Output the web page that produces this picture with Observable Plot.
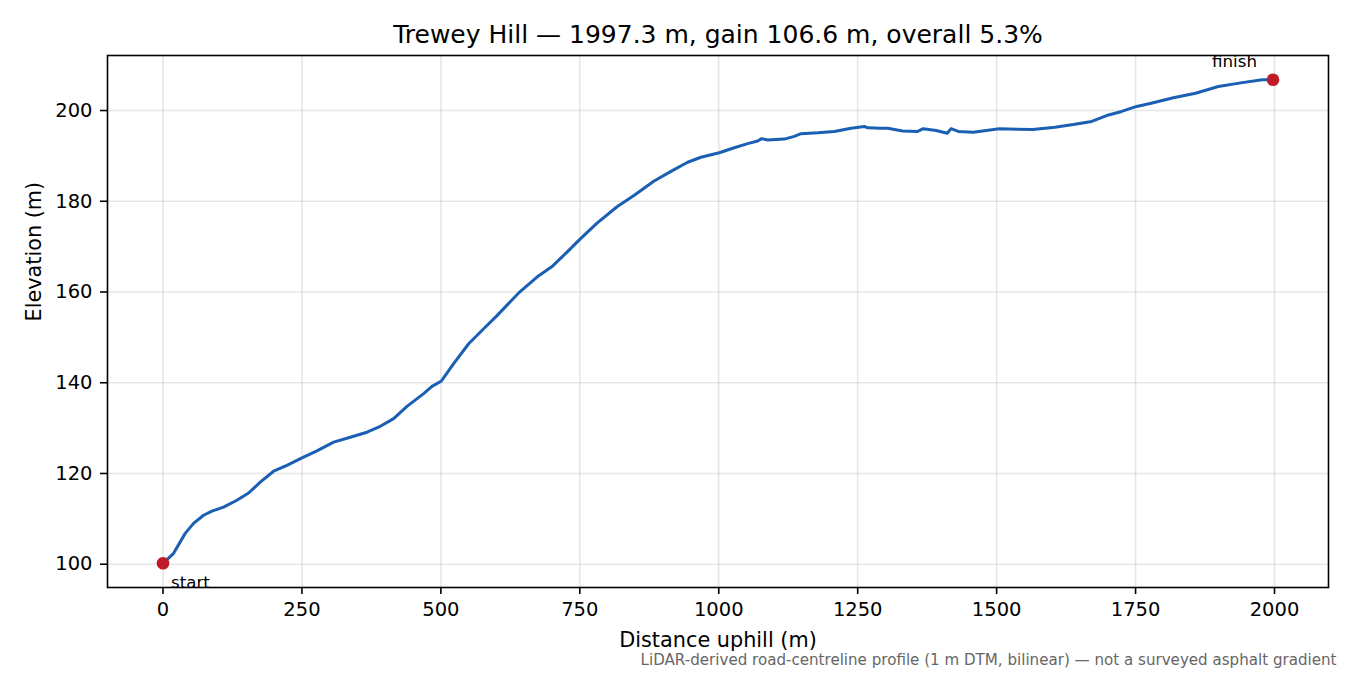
<!DOCTYPE html>
<html>
<head>
<meta charset="utf-8">
<script src="https://cdn.jsdelivr.net/npm/d3@7"></script>
<script src="https://cdn.jsdelivr.net/npm/@observablehq/plot@0.6"></script>
<style>
  html, body { margin: 0; padding: 0; background: #fff; }
  svg { display: block; }
</style>
</head>
<body>
<div id="chart"></div>
<script>
const distance = [0, 19, 40, 55, 73, 88, 109, 133, 154, 175, 199, 223, 251, 277, 307, 337, 367, 391, 415, 439, 469, 484, 501, 523, 550, 577, 601, 640, 673, 700, 727, 750, 781, 817, 850, 883, 914, 944, 968, 1001, 1028, 1052, 1070, 1077, 1088, 1118, 1136, 1148, 1178, 1208, 1238, 1262, 1268, 1291, 1304, 1331, 1358, 1368, 1391, 1411, 1418, 1431, 1458, 1505, 1565, 1605, 1638, 1671, 1698, 1725, 1752, 1778, 1818, 1858, 1899, 1939, 1978, 1997.3];
const elevation = [100.2, 102.4, 106.8, 109.0, 110.8, 111.7, 112.6, 114.1, 115.7, 118.1, 120.5, 121.8, 123.5, 125.0, 126.9, 128.0, 129.1, 130.4, 132.1, 134.8, 137.6, 139.2, 140.4, 144.2, 148.6, 151.9, 154.8, 159.8, 163.3, 165.6, 168.8, 171.6, 175.2, 178.8, 181.5, 184.4, 186.6, 188.6, 189.7, 190.7, 191.8, 192.7, 193.3, 193.8, 193.5, 193.7, 194.3, 194.9, 195.1, 195.4, 196.1, 196.5, 196.2, 196.1, 196.1, 195.5, 195.4, 196.0, 195.6, 195.0, 196.0, 195.4, 195.2, 196.0, 195.8, 196.3, 196.9, 197.6, 198.9, 199.8, 200.9, 201.6, 202.8, 203.8, 205.3, 206.1, 206.8, 206.8];
const xTicks = [0, 250, 500, 750, 1000, 1250, 1500, 1750, 2000];
const yTicks = [100, 120, 140, 160, 180, 200];
const endpoints = [
  {label: "start", x: 0, y: 100.2},
  {label: "finish", x: 1997.3, y: 206.8}
];
const titleText = "Trewey Hill — 1997.3 m, gain 106.6 m, overall 5.3%";
const xLabel = "Distance uphill (m)";
const yLabel = "Elevation (m)";
const captionText = "LiDAR-derived road-centreline profile (1 m DTM, bilinear) — not a surveyed asphalt gradient";

const data = distance.map((d, i) => ({d, e: elevation[i]}));
const xr = d3.extent(distance), yr = d3.extent(elevation);
const xm = (xr[1] - xr[0]) * 0.05, ym = (yr[1] - yr[0]) * 0.05;

const chart = Plot.plot({
  width: 1350,
  height: 675,
  marginLeft: 107,
  marginRight: 22,
  marginTop: 55,
  marginBottom: 88,
  style: {fontFamily: "DejaVu Sans", fontSize: "19.5px", color: "black", background: "white"},
  x: {domain: [xr[0] - xm, xr[1] + xm]},
  y: {domain: [yr[0] - ym, yr[1] + ym]},
  marks: [
    Plot.gridX(xTicks, {stroke: "#b0b0b0", strokeOpacity: 0.3, strokeWidth: 1.6}),
    Plot.gridY(yTicks, {stroke: "#b0b0b0", strokeOpacity: 0.3, strokeWidth: 1.6}),
    Plot.line(data, {x: "d", y: "e", stroke: "#1a5fb4", strokeWidth: 3, strokeLinejoin: "round"}),
    Plot.dot(endpoints, {x: "x", y: "y", r: 6.3, fill: "#c01c28"}),
    Plot.text(endpoints.filter(p => p.label === "start"), {x: "x", y: "y", text: "label", dx: 8, dy: 19, textAnchor: "start", fontSize: 16.7}),
    Plot.text(endpoints.filter(p => p.label === "finish"), {x: "x", y: "y", text: "label", dx: -16, dy: -18, textAnchor: "end", fontSize: 16.7}),
    Plot.frame({stroke: "black", strokeWidth: 1.6}),
    Plot.axisX(xTicks, {tickSize: 7, tickPadding: 8, fontSize: 19.5, strokeWidth: 1.6, label: null, tickFormat: d3.format("d")}),
    Plot.axisY(yTicks, {tickSize: 7, tickPadding: 8, fontSize: 19.5, strokeWidth: 1.6, label: null, tickFormat: d3.format("d")}),
    Plot.text([titleText], {frameAnchor: "top", dy: -21, lineAnchor: "middle", fontSize: 25}),
    Plot.text([xLabel], {frameAnchor: "bottom", dy: 53, lineAnchor: "middle", fontSize: 20.8}),
    Plot.text([yLabel], {frameAnchor: "left", dx: -73, rotate: -90, lineAnchor: "middle", fontSize: 20.8}),
    Plot.text([captionText], {frameAnchor: "bottom-right", dx: 8, dy: 73, textAnchor: "end", lineAnchor: "middle", fontSize: 15.1, fill: "#666"})
  ]
});
document.getElementById("chart").appendChild(chart);
</script>
</body>
</html>
